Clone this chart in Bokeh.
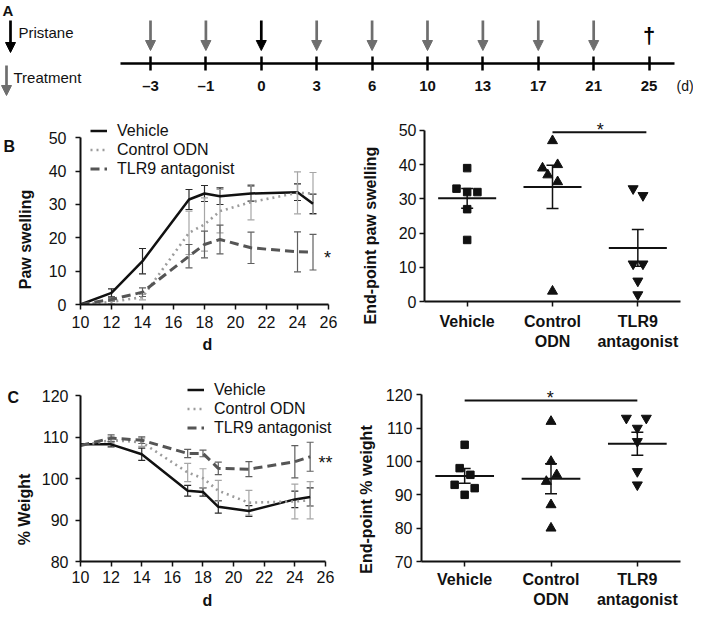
import numpy as np
from bokeh.plotting import figure
from bokeh.layouts import column, row
from bokeh.models import (Range1d, FixedTicker, Whisker, TeeHead, Arrow,
                          NormalHead, ColumnDataSource)
from bokeh.embed import file_html
from bokeh.resources import INLINE
from bokeh.core.properties import value

FONT = "Liberation Sans"
INK = "#111111"

# ---------------- data ----------------
# Panel A: schedule
sched_days = ["–3", "–1", "0", "3", "6", "10", "13", "17", "21", "25"]
sched_event = ["treatment", "treatment", "pristane", "treatment", "treatment",
               "treatment", "treatment", "treatment", "treatment", "end"]
sched_legend = ["Pristane", "Treatment"]
sched_unit = "(d)"

# Panels B/C: time course
days = [10, 12, 14, 17, 18, 19, 21, 24, 25]
series = ["Vehicle", "Control ODN", "TLR9 antagonist"]
paw_vehicle = [0, 3.5, 13.0, 31.5, 33.3, 32.5, 33.3, 33.7, 30.2]
paw_vehicle_err = [0, 1.2, 3.8, 3.0, 2.4, 2.5, 2.3, 2.5, 2.9]
paw_control = [0, 0.8, 2.2, 21.5, 24.0, 28.0, 30.7, 33.5, 33.3]
paw_control_err = [0, 0.5, 0.8, 6.5, 8.0, 6.5, 5.3, 6.3, 6.3]
paw_tlr9 = [0, 1.5, 3.7, 14.5, 18.0, 19.5, 17.0, 15.8, 15.7]
paw_tlr9_err = [0, 0.5, 1.3, 3.5, 4.0, 4.3, 4.7, 6.0, 5.35]

wt_vehicle = [108.3, 108.3, 105.9, 97.1, 96.8, 93.2, 92.2, 95.0, 95.6]
wt_vehicle_err = [0, 0.6, 1.5, 1.3, 1.0, 1.5, 1.3, 2.0, 2.2]
wt_control = [108.0, 109.3, 108.8, 101.5, 100.1, 97.1, 94.2, 94.5, 94.8]
wt_control_err = [0, 0.8, 1.0, 2.2, 2.3, 2.5, 3.0, 4.2, 4.5]
wt_tlr9 = [108.0, 109.8, 109.3, 106.1, 106.1, 102.5, 102.3, 104.1, 105.3]
wt_tlr9_err = [0, 0.8, 0.8, 1.0, 0.8, 1.5, 1.8, 3.9, 3.5]

# End-point scatter
groups = ["Vehicle", "Control ODN", "TLR9 antagonist"]
group_ticks = ["Vehicle", "Control\nODN", "TLR9\nantagonist"]
end_paw_vehicle = [39, 33, 32, 32, 27, 18]
end_paw_control = [47, 39, 40, 37, 35, 3]
end_paw_tlr9 = [33, 31, 11, 11, 6, 2]
end_wt_vehicle = [105, 98, 96, 93, 92, 90]
end_wt_control = [112, 100, 96, 94, 87, 80]
end_wt_tlr9 = [113, 113, 110, 106, 97, 93]

# horizontal spread of overlapping points (layout only, fraction of a group)
paw_dx = [[0, -0.125, 0, 0.12, 0, 0],
          [0, -0.117, 0.06, -0.055, 0.06, 0],
          [-0.055, 0.06, -0.055, 0.06, 0, 0]]
wt_dx = [[0, -0.058, 0.066, -0.116, 0.116, 0],
         [0, 0, 0.066, -0.054, 0, 0],
         [-0.127, 0.104, 0, 0, 0, 0]]

# ---------------- styles ----------------
LINE_STYLE = {
    "Vehicle": dict(color="#111111", width=2.5, dash="solid", err="#2a2a2a"),
    "Control ODN": dict(color="#9c9c9c", width=2.6, dash="2 4", err="#a6a6a6"),
    "TLR9 antagonist": dict(color="#555555", width=3.0, dash="9 5", err="#5f5f5f"),
}
MARKERS = ["square", "triangle", "inverted_triangle"]
MSIZE = [7.5, 10, 10]


def base_fig(fw, fh, bl, br, bt, bb, xr, yr, axes=True):
    kw = {}
    if not axes:
        kw = dict(x_axis_location=None, y_axis_location=None)
    p = figure(frame_width=fw, frame_height=fh, min_border_left=bl,
               min_border_right=br, min_border_top=bt, min_border_bottom=bb,
               x_range=xr, y_range=yr, toolbar_location=None,
               output_backend="svg", **kw)
    p.grid.visible = False
    p.outline_line_color = None
    p.background_fill_color = "white"
    p.border_fill_color = "white"
    return p


def text_fig(w, h, items):
    """Blank pixel-space figure holding panel letters / axis titles."""
    p = base_fig(w, h, 0, 0, 0, 0, Range1d(0, w), Range1d(0, h), axes=False)
    for (x, y, t, ang, align, size, style) in items:
        p.text(x=[x], y=[y], text=[t], angle=ang, text_font=value(FONT),
               text_font_size=size, text_font_style=style, text_color=INK,
               text_align=align, text_baseline="middle")
    return p


def style_axes(p, tick_size="16px"):
    for ax in p.axis:
        ax.axis_line_width = 2
        ax.axis_line_color = INK
        ax.major_tick_line_width = 1.5
        ax.major_tick_line_color = INK
        ax.major_tick_in = 0
        ax.major_tick_out = 5
        ax.minor_tick_line_color = None
        ax.major_label_text_font = FONT
        ax.major_label_text_font_size = tick_size
        ax.major_label_text_color = INK
        ax.axis_label_text_font = FONT
        ax.axis_label_text_font_size = "16px"
        ax.axis_label_text_font_style = "bold"
        ax.axis_label_text_color = INK


def add_whiskers(p, xs, ys, errs, color, head=7, lw=1.2):
    xs2 = [x for x, e in zip(xs, errs) if e > 0]
    up = [y + e for y, e in zip(ys, errs) if e > 0]
    lo = [y - e for y, e in zip(ys, errs) if e > 0]
    src = ColumnDataSource(dict(x=xs2, u=up, l=lo))
    p.add_layout(Whisker(source=src, base="x", upper="u", lower="l",
                         dimension="height", line_color=color, line_width=lw,
                         upper_head=TeeHead(size=head, line_color=color, line_width=lw),
                         lower_head=TeeHead(size=head, line_color=color, line_width=lw)))


def star(p, x, y, t, yoff):
    p.text(x=[x], y=[y], text=[t], text_font=value(FONT), text_font_size="18px",
           text_color=INK, text_align="center", text_baseline="middle", y_offset=yoff)


# ---------------- Panel A ----------------
H_A = 97
pA1 = base_fig(112, H_A, 0, 0, 0, 0, Range1d(0, 112), Range1d(0, H_A), axes=False)
pA1.text(x=[2], y=[96], text=["A"], text_font=value(FONT), text_font_size="15px",
         text_font_style="bold", text_color=INK, text_baseline="top")
for (ax_, y0, y1, col, tx, ty, txt) in [(10, 77, 45, "#000000", 18, 65, sched_legend[0]),
                                        (6, 32, 2, "#6e6e6e", 13, 20, sched_legend[1])]:
    pA1.add_layout(Arrow(x_start=ax_, y_start=y0, x_end=ax_, y_end=y1,
                         line_color=col, line_width=2.7,
                         end=NormalHead(size=10, fill_color=col, line_color=col, line_width=1)))
    pA1.text(x=[tx], y=[ty], text=[txt], text_font=value(FONT), text_font_size="15px",
             text_color=INK, text_baseline="middle")

idx = list(range(len(sched_days)))
pA2 = base_fig(563, 63, 0, 0, 0, H_A - 63, Range1d(-0.686, 9.477), Range1d(0, 63))
pA2.yaxis.visible = False
xa = pA2.xaxis[0]
xa.ticker = FixedTicker(ticks=idx)
xa.major_label_overrides = {i: d for i, d in zip(idx, sched_days)}
xa.bounds = (-0.5415, 9.4585)
xa.axis_line_width = 2.7
xa.axis_line_color = "#000000"
xa.major_tick_in = 7
xa.major_tick_out = 7
xa.major_tick_line_width = 2.5
xa.major_tick_line_color = "#000000"
xa.minor_tick_line_color = None
xa.major_label_standoff = 6
xa.major_label_text_font = FONT
xa.major_label_text_font_size = "15px"
xa.major_label_text_font_style = "bold"
xa.major_label_text_color = INK

for ev, col in [("treatment", "#6e6e6e"), ("pristane", "#000000")]:
    xs = [i for i, e in zip(idx, sched_event) if e == ev]
    src = ColumnDataSource(dict(x=xs, y0=[43] * len(xs), y1=[13] * len(xs)))
    pA2.add_layout(Arrow(source=src, x_start="x", y_start="y0", x_end="x", y_end="y1",
                         line_color=col, line_width=2.7,
                         end=NormalHead(size=10, fill_color=col, line_color=col, line_width=1)))
xs_end = [i for i, e in zip(idx, sched_event) if e == "end"]
pA2.text(x=xs_end, y=[28.5] * len(xs_end), text=["†"] * len(xs_end),
         text_font=value(FONT), text_font_size="22px", text_font_style="bold",
         text_align="center", text_baseline="middle", text_color="#000000")

pA3 = text_fig(18, H_A, [(1, 12, sched_unit, 0, "left", "14px", "normal")])


# ---------------- time-course panels ----------------
def time_panel(fw, fh, bl, br, bt, bb, xr, yr, ybounds, yticks, data, errs,
               y_std, x_std, x_als, legend_loc):
    p = base_fig(fw, fh, bl, br, bt, bb, xr, yr)
    style_axes(p)
    p.xaxis.ticker = FixedTicker(ticks=list(range(10, 27, 2)))
    p.yaxis.ticker = FixedTicker(ticks=yticks)
    p.xaxis.bounds = (10, 26)
    p.yaxis.bounds = ybounds
    p.xaxis.axis_label = "d"
    p.yaxis.major_label_standoff = y_std
    p.xaxis.major_label_standoff = x_std
    p.xaxis.axis_label_standoff = x_als
    for name, ys in zip(series, data):
        st = LINE_STYLE[name]
        p.line(days, ys, line_color=st["color"], line_width=st["width"],
               line_dash=st["dash"], legend_label=name)
    for name, ys, es in zip(series, data, errs):
        add_whiskers(p, days, ys, es, LINE_STYLE[name]["err"])
    lg = p.legend[0]
    lg.location = legend_loc
    lg.label_text_font = FONT
    lg.label_text_font_size = "16px"
    lg.label_text_color = INK
    lg.glyph_width = 17
    lg.glyph_height = 19
    lg.label_height = 19
    lg.label_standoff = 10
    lg.spacing = 0
    lg.padding = 0
    lg.margin = 0
    lg.border_line_color = None
    lg.background_fill_alpha = 0
    return p


H_B = 258
labB1 = text_fig(36, H_B, [(3, 229, "B", 0, "left", "16px", "bold"),
                           (25, 136, "Paw swelling", np.pi / 2, "center", "16px", "bold")])
pB1 = time_panel(254, 187, 44, 10, 17, 54, Range1d(10, 26.387), Range1d(0, 56.09), (0, 50),
                 [0, 10, 20, 30, 40, 50],
                 [paw_vehicle, paw_control, paw_tlr9],
                 [paw_vehicle_err, paw_control_err, paw_tlr9_err],
                 9, 6, 5, (10, 126))
star(pB1, 25.94, paw_tlr9[-1], "*", 5.5)

H_C = 255
labC1 = text_fig(36, H_C, [(7, 235, "C", 0, "left", "16px", "bold"),
                           (23.5, 123, "% Weight", np.pi / 2, "center", "16px", "bold")])
pC1 = time_panel(254, 184, 44, 10, 22, 49, Range1d(10, 26.59), Range1d(80, 124.44), (80, 120),
                 [80, 90, 100, 110, 120],
                 [wt_vehicle, wt_control, wt_tlr9],
                 [wt_vehicle_err, wt_control_err, wt_tlr9_err],
                 7, 4, 6, (107, 124))
star(pC1, 26.0, wt_tlr9[-1], "**", 6)


# ---------------- end-point panels ----------------
def end_panel(fw, fh, bl, br, bt, bb, yr, ybounds, yticks, vals, dxs, y_std, x_std,
              sig, sig_y, sig_over):
    p = base_fig(fw, fh, bl, br, bt, bb, Range1d(0, 3), yr)
    style_axes(p)
    centers = [i + 0.5 for i in range(len(groups))]
    p.xaxis.ticker = FixedTicker(ticks=centers)
    p.xaxis.major_label_overrides = {c: t for c, t in zip(centers, group_ticks)}
    p.xaxis.major_label_text_font_style = "bold"
    p.xaxis.major_label_standoff = x_std
    p.yaxis.ticker = FixedTicker(ticks=yticks)
    p.yaxis.bounds = ybounds
    p.yaxis.major_label_standoff = y_std
    means, sems = [], []
    for c, v, dx, mk, ms in zip(centers, vals, dxs, MARKERS, MSIZE):
        xs = [c + d for d in dx]
        p.scatter(xs, v, marker=mk, size=ms, fill_color=INK, line_color=INK)
        arr = np.array(v, dtype=float)
        means.append(arr.mean())
        sems.append(arr.std(ddof=1) / np.sqrt(len(arr)))
    p.segment(x0=[c - 0.34 for c in centers], x1=[c + 0.34 for c in centers],
              y0=means, y1=means, line_color=INK, line_width=2)
    add_whiskers(p, centers, means, sems, INK, head=12, lw=1.5)
    a, b = groups.index(sig[0]), groups.index(sig[1])
    p.segment(x0=[centers[a]], x1=[centers[b] + sig_over], y0=[sig_y], y1=[sig_y],
              line_color=INK, line_width=2)
    return p


labB2 = text_fig(36, H_B, [(26, 140, "End-point paw swelling", np.pi / 2, "center", "16px", "bold")])
pB2 = end_panel(256, 184, 44, 13, 20, 54, Range1d(0, 53.8), (0, 50),
                [0, 10, 20, 30, 40, 50],
                [end_paw_vehicle, end_paw_control, end_paw_tlr9], paw_dx,
                3, 6, ("Control ODN", "TLR9 antagonist"), 49.5, 0.1)
star(pB2, 2.06, 49.5, "*", -2)

labC2 = text_fig(36, H_C, [(21.5, 133, "End-point % weight", np.pi / 2, "center", "16px", "bold")])
pC2 = end_panel(259, 184, 41, 13, 22, 49, Range1d(70, 125.19), (70, 120),
                [70, 80, 90, 100, 110, 120],
                [end_wt_vehicle, end_wt_control, end_wt_tlr9], wt_dx,
                4, 4, ("Vehicle", "TLR9 antagonist"), 118.3, 0.0)
star(pC2, 1.49, 118.3, "*", -2.5)

layout = column(row(pA1, pA2, pA3),
                row(labB1, pB1, labB2, pB2),
                row(labC1, pC1, labC2, pC2))
open("out.html", "w").write(file_html(layout, INLINE))
